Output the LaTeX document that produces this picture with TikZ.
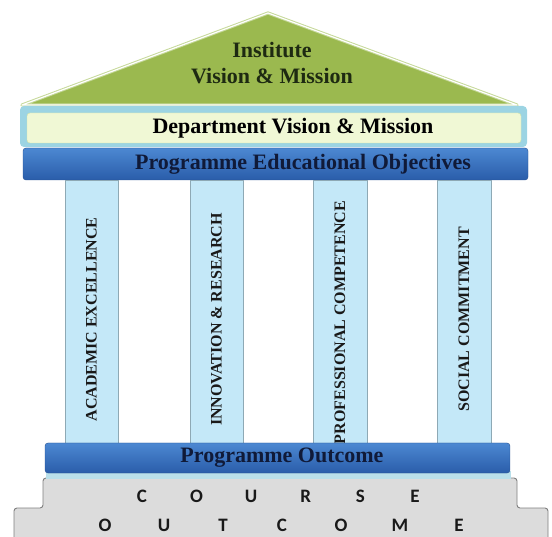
\documentclass[tikz,border=0pt]{standalone}
\usepackage{fontspec}
\setmainfont{Liberation Serif}
\newfontfamily\stepfont{Carlito}
\usepackage{xcolor}
\definecolor{RoofGreen}{HTML}{9BB94F}
\definecolor{RoofEdge}{HTML}{C6D99A}
\definecolor{RoofInk}{HTML}{1E2A12}
\definecolor{DeptGlow}{HTML}{9CD4E3}
\definecolor{DeptFill}{HTML}{F0F8D5}
\definecolor{DeptEdge}{HTML}{D3E4A6}
\definecolor{BarTop}{HTML}{4C88D2}
\definecolor{BarBottom}{HTML}{2A5DAA}
\definecolor{BarInk}{HTML}{101A38}
\definecolor{PillarFill}{HTML}{C4E8F8}
\definecolor{PillarEdge}{HTML}{8EA9B5}
\definecolor{StepFill}{HTML}{DCDCDC}
\definecolor{StepEdge}{HTML}{7F7F7F}
\definecolor{StepGlow}{HTML}{B9DFEA}
\usepackage{tikz}
\usetikzlibrary{positioning}
\newcommand{\courseletter}[1]{\makebox[54.6pt]{#1}}
\newcommand{\outcomeletter}[1]{\makebox[59pt]{#1}}
\tikzset{
  roof/.style={fill=RoofGreen,draw=RoofEdge,line width=1pt,double=white,double distance=1.2pt,line join=round},
  glowbar/.style={fill=DeptGlow,rounded corners=4pt,inner sep=0pt},
  deptbar/.style={fill=DeptFill,draw=DeptEdge,rounded corners=3pt,inner sep=0pt},
  bluebar/.style={top color=BarTop,bottom color=BarBottom,draw=BarBottom!85!black,rounded corners=3pt,inner sep=0pt},
  bartext/.style={font=\fontsize{22}{22}\selectfont\bfseries,text=BarInk,inner sep=0pt},
  pillar/.style={rotate=90,fill=PillarFill,draw=PillarEdge,inner sep=0pt},
  pillartext/.style={rotate=90,font=\fontsize{16}{16}\selectfont\bfseries,text=black!90,inner sep=0pt},
  stepshape/.style={fill=StepFill,draw=StepEdge,line width=0.9pt,rounded corners=3pt},
  steptext/.style={font=\stepfont\fontsize{19}{19}\selectfont\bfseries,text=black!90,inner sep=0pt}
}
\begin{document}
\begin{tikzpicture}[x=1pt,y=-1pt]
  \useasboundingbox (0,0) rectangle (552,537);
  % roof
  \draw[roof] (22,105) -- (268,13) -- (517,105) -- cycle;
  \node[font=\fontsize{22}{26}\selectfont\bfseries,text=RoofInk,align=center] (inst) at (272,63) {Institute\\Vision \& Mission};
  % department and PEO bars
  \node[glowbar,minimum width=507pt,minimum height=41pt] (deptglow) at (273.5,126.5) {};
  \node[deptbar,minimum width=494pt,minimum height=30pt] (dept) at (274,128) {};
  \node[bartext,text=black] (depttext) at (293,128) {Department Vision \& Mission};
  \node[bluebar,minimum width=505pt,minimum height=32pt] (peo) at (275.5,164) {};
  \node[bartext] (peotext) at (303,164) {Programme Educational Objectives};
  % pillars
  \node[pillar,minimum width=263pt,minimum height=53pt] (acad) at (91.5,311.5) {};
  \node[pillar,minimum width=263pt,minimum height=53pt] (innov) at (216.5,311.5) {};
  \node[pillar,minimum width=263pt,minimum height=54pt] (prof) at (340,311.5) {};
  \node[pillar,minimum width=263pt,minimum height=54pt] (social) at (464,311.5) {};
  \node[pillartext] (acadtext) at ([yshift=-8pt]acad.center) {ACADEMIC EXCELLENCE};
  \node[pillartext] (innovtext) at ([yshift=-8pt]innov.center) {INNOVATION \& RESEARCH};
  \node[pillartext] (proftext) at ([yshift=-11pt]prof.center) {PROFESSIONAL COMPETENCE};
  \node[pillartext] (socialtext) at ([yshift=-8pt]social.center) {SOCIAL COMMITMENT};
  % course outcome steps
  \draw[stepshape] (43,508) -- (43,478) -- (517,478) -- (517,508) -- (548,508) -- (548,548) -- (14,548) -- (14,508) -- cycle;
  \fill[StepGlow] (46,471) rectangle (511,478.5);
  \node[steptext] (course) at (278.5,496.5) {\courseletter{C}\courseletter{O}\courseletter{U}\courseletter{R}\courseletter{S}\courseletter{E}};
  \node[steptext] (outcome) at (282,525.5) {\outcomeletter{O}\outcomeletter{U}\outcomeletter{T}\outcomeletter{C}\outcomeletter{O}\outcomeletter{M}\outcomeletter{E}};
  % programme outcome
  \node[bluebar,minimum width=465pt,minimum height=30pt] (po) at (277.5,458) {};
  \node[bartext] (potext) at (282,458) {Programme Outcome};
\end{tikzpicture}
\end{document}
